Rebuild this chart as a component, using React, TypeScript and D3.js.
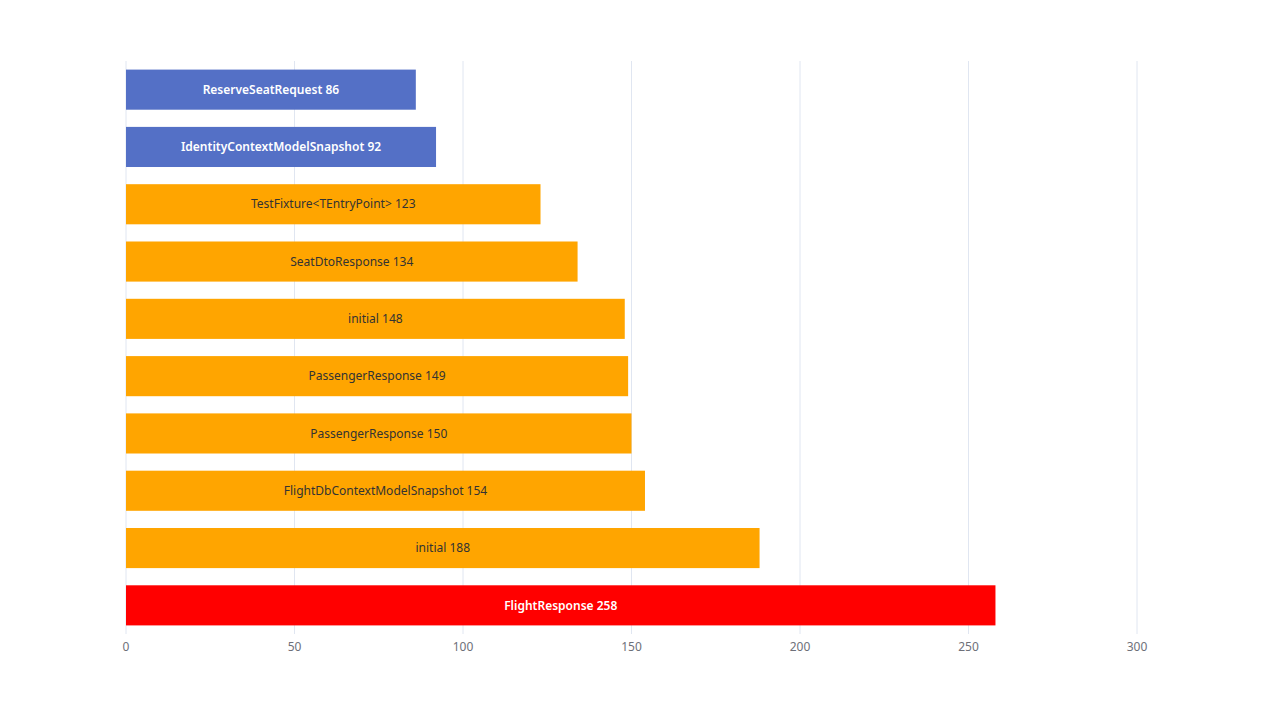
import React from "react";
import * as d3 from "d3";

const categories = [
  "ReserveSeatRequest",
  "IdentityContextModelSnapshot",
  "TestFixture<TEntryPoint>",
  "SeatDtoResponse",
  "initial",
  "PassengerResponse",
  "PassengerResponse",
  "FlightDbContextModelSnapshot",
  "initial",
  "FlightResponse",
];
const values = [86, 92, 123, 134, 148, 149, 150, 154, 188, 258];
const barColors = ["#5470C6", "#5470C6", "#FFA500", "#FFA500", "#FFA500", "#FFA500", "#FFA500", "#FFA500", "#FFA500", "#FF0000"];
const labelColors = ["#fff", "#fff", "#333", "#333", "#333", "#333", "#333", "#333", "#333", "#fff"];
const xTicks = [0, 50, 100, 150, 200, 250, 300];

export default function App() {
  const W = 1264, H = 705;
  const left = 126, right = 1137, top = 61, bottom = 634;
  const x = d3.scaleLinear().domain([0, 300]).range([left, right]);
  const idx = categories.map((_, i) => String(i));
  const y = d3.scaleBand().domain(idx).range([top, bottom]).paddingInner(0.3).paddingOuter(0.15);
  const font = "'Noto Sans', 'Open Sans', sans-serif";
  return (
    <svg width={W} height={H} style={{ position: "absolute", left: 0, top: 0 }} fontFamily={font}>
      <rect width={W} height={H} fill="#fff" />
      {xTicks.map((t) => (
        <line key={t} x1={x(t)} x2={x(t)} y1={top} y2={bottom} stroke="#E0E6F1" strokeWidth={1} />
      ))}
      {values.map((v, i) => (
        <g key={i}>
          <rect x={x(0)} y={y(String(i))!} width={x(v) - x(0)} height={y.bandwidth()} fill={barColors[i]} />
          <text
            x={(x(0) + x(v)) / 2}
            y={y(String(i))! + y.bandwidth() / 2}
            dy="0.35em"
            textAnchor="middle"
            fontSize={12}
            fill={labelColors[i]}
            fontWeight={labelColors[i] === "#fff" ? 600 : 400}
          >
            {`${categories[i]} ${v}`}
          </text>
        </g>
      ))}
      {xTicks.map((t) => (
        <text key={t} x={x(t)} y={647} dy="0.35em" textAnchor="middle" fontSize={12} fill="#6E7079">
          {t}
        </text>
      ))}
    </svg>
  );
}
